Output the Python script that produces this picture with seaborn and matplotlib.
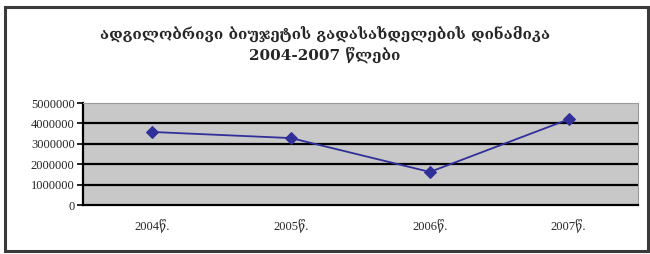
import matplotlib
matplotlib.use('Agg')
import matplotlib.pyplot as plt
import seaborn as sns
import pandas as pd
from matplotlib.patches import Rectangle

years = ['2004წ.', '2005წ.', '2006წ.', '2007წ.']
values = [3580000, 3280000, 1620000, 4200000]
yticks = [0, 1000000, 2000000, 3000000, 4000000, 5000000]
title = 'ადგილობრივი ბიუჯეტის გადასახდელების დინამიკა\n2004-2007 წლები'

sns.set_style('white')
plt.rcParams['font.family'] = ['Liberation Serif', 'DejaVu Serif', 'DejaVu Sans']

df = pd.DataFrame({'year': years, 'value': values})

fig = plt.figure(figsize=(6.5, 2.54), dpi=100)
ax = fig.add_axes([83 / 650, 1 - 205 / 254, (638 - 83) / 650, (205 - 103) / 254])

sns.lineplot(data=df, x='year', y='value', ax=ax, color='#30309a', linewidth=1.3,
             marker='D', markersize=6, markeredgecolor='#30309a', zorder=5)

ax.set_facecolor('#c8c8c8')
ax.set_xlim(-0.5, 3.5)
ax.set_ylim(0, 5000000)
ax.set_yticks(yticks)
ax.set_yticklabels([str(v) for v in yticks], fontsize=9)
ax.set_xticks(range(len(years)))
ax.set_xticklabels(years, fontsize=9)
ax.set_xticks([i - 0.5 for i in range(len(years) + 1)], minor=True)
ax.tick_params(axis='x', which='major', length=0, pad=10)
ax.tick_params(axis='x', which='minor', length=4, width=1.2, direction='out', color='black')
ax.tick_params(axis='y', length=4, width=1.2, direction='out', color='black', pad=2, left=True)
ax.set_xlabel('')
ax.set_ylabel('')

for v in yticks[1:-1]:
    ax.axhline(v, color='black', linewidth=1.6, zorder=2)

ax.spines['left'].set_color('black')
ax.spines['left'].set_linewidth(1.6)
ax.spines['bottom'].set_color('black')
ax.spines['bottom'].set_linewidth(1.6)
ax.spines['top'].set_color('#9a9a9a')
ax.spines['right'].set_color('#9a9a9a')

fig.text(0.5, 1 - 44 / 254, title, ha='center', va='center', fontsize=11,
         fontweight='bold', linespacing=1.35, family=['DejaVu Serif', 'DejaVu Sans'])

fig.patches.append(Rectangle((5 / 650, 3 / 254), 643 / 650, 244 / 254, transform=fig.transFigure,
                             fill=False, edgecolor='#3a3a3a', linewidth=2.2))

fig.savefig('out.png', dpi=100)
